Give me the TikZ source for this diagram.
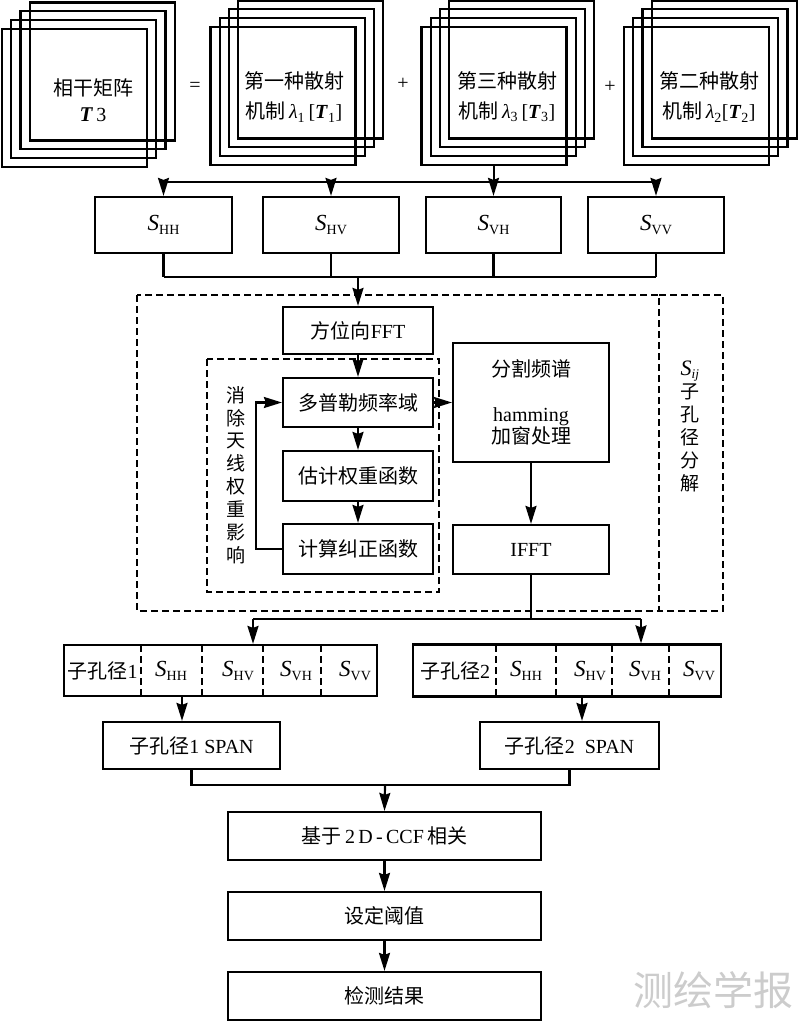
\documentclass[tikz,border=0pt]{standalone}
\usepackage{fontspec}
\setmainfont{Liberation Serif}
\newfontfamily\zh{Noto Sans CJK SC}
\usetikzlibrary{arrows.meta,calc}
\newcommand\fsz{\fontsize{20}{24}\selectfont}
\newcommand\Ss[1]{{\fontsize{23}{24}\selectfont\textit{S}}\raisebox{-4pt}{\fontsize{14}{15}\selectfont #1}}
\newcommand\mystack[3]{%
  \foreach \k in {3,2,1}{\node[stk] at (#2+9.2*\k,#3-8.8*\k) {};}
  \node[stk] (#1) at (#2,#3) {};}
\begin{document}
\begin{tikzpicture}[x=1pt,y=-1pt,line width=2.2pt,
  box/.style={draw,line width=2.2pt,inner sep=0pt,align=center,font=\fsz},
  wh/.style 2 args={minimum width=#1pt,minimum height=#2pt},
  txt/.style={inner sep=0pt,align=center,font=\fsz},
  stk/.style={draw,line width=2.2pt,minimum width=145pt,minimum height=138pt,inner sep=0pt},
  arr/.style={-{Stealth[length=18pt,width=11pt,inset=2pt]}},
  dsh/.style={dash pattern=on 7pt off 4pt,line width=1.9pt}]
\useasboundingbox (0,0) rectangle (800,1024);
% stacks
\mystack{st1}{74.5}{98}
\mystack{st2}{283}{96}
\mystack{st3}{494}{96}
\mystack{st4}{696.5}{96}
\node[txt,font=\fontsize{20}{26}\selectfont] (t1) at (93,100) {{\zh 相干矩阵}\\{\fontsize{21}{24}\selectfont\textbf{\textit{T}}}\,3};
\node[txt,font=\fontsize{20}{30}\selectfont] (t2) at (294,97) {{\zh 第一种散射}\\{\zh 机制}\,\textit{λ}\textsubscript{1}\,[\textbf{\textit{T}}\textsubscript{1}]};
\node[txt,font=\fontsize{20}{30}\selectfont] (t3) at (507,97) {{\zh 第三种散射}\\{\zh 机制}\,\textit{λ}\textsubscript{3}\,[\textbf{\textit{T}}\textsubscript{3}]};
\node[txt,font=\fontsize{20}{30}\selectfont] (t4) at (709,97) {{\zh 第二种散射}\\{\zh 机制}\,\textit{λ}\textsubscript{2}[\textbf{\textit{T}}\textsubscript{2}]};
\node[txt] (eq) at (195,87) {=};
\node[txt] (p1) at (403,84) {+};
\node[txt] (p2) at (610,87) {+};
% S boxes
\node[box,wh={137}{56}] (shh) at (163.5,225) {\Ss{HH}};
\node[box,wh={136}{56}] (shv) at (331,225) {\Ss{HV}};
\node[box,wh={135}{56}] (svh) at (493.5,225) {\Ss{VH}};
\node[box,wh={136}{56}] (svv) at (656,225) {\Ss{VV}};
\coordinate (b1) at (494,182);
\draw (st3.south) -- (b1);
\draw (shh.north |- b1) -- (svv.north |- b1);
\foreach \n in {shh,shv,svh,svv} \draw[arr] (\n.north |- b1) -- (\n.north);
\coordinate (b2) at (358,277);
\foreach \n in {shh,shv,svh,svv} \draw (\n.south) -- (\n.south |- b2);
\draw (shh.south |- b2) -- (svv.south |- b2);
% dashed frames
\draw[dsh] (137,295) rectangle (659,611);
\draw[dsh] (659,295) -- (723,295) -- (723,611) -- (659,611);
\draw[dsh] (207,359) rectangle (439,592);
% middle boxes
\node[box,wh={150}{47}] (fft) at (358,330.5) {{\zh 方位向}FFT};
\node[box,wh={150}{49}] (dop) at (358,402.5) {\zh 多普勒频率域};
\node[box,wh={150}{50}] (est) at (358,476) {\zh 估计权重函数};
\node[box,wh={150}{50}] (cal) at (358,549) {\zh 计算纠正函数};
\node[box,wh={156}{119},font=\fontsize{20}{22}\selectfont] (split) at (531,402.5) {{\zh 分割频谱}\\[23pt]hamming\\{\zh 加窗处理}};
\node[box,wh={156}{49}] (ifft) at (531,549.5) {IFFT};
\node[txt,font=\zh\fontsize{19}{22.9}\selectfont] (vt1) at (236,475) {消\\除\\天\\线\\权\\重\\影\\响};
\node[txt,font=\fontsize{19}{23}\selectfont] (vt2) at (690,427) {{\fontsize{22}{23}\selectfont\textit{S}}\textsubscript{\textit{ij}}\\{\zh 子}\\{\zh 孔}\\{\zh 径}\\{\zh 分}\\{\zh 解}};
\draw[arr] (b2) -- (fft.north);
\draw[arr] (fft) -- (dop);
\draw[arr] (dop) -- (est);
\draw[arr] (est) -- (cal);
\draw[arr] (cal.west) -- ++(-26,0) |- (dop.west);
\draw[arr] (dop) -- (split);
\draw[arr] (split) -- (ifft);
% sub-aperture rows
\node[box,wh={313}{51}] (row1) at (220.5,670.5) {};
\node[box,wh={308}{52}] (row2) at (567,670.5) {};
\foreach \x in {141,202,263,321} \draw[dsh] (\x,645) -- (\x,696);
\foreach \x in {496,556,612,669} \draw[dsh] (\x,645) -- (\x,696);
\node[txt] (r1a) at (102.5,671) {{\zh 子孔径}1};
\node[txt] (r1b) at (171,671) {\Ss{HH}};
\node[txt] (r1c) at (238,671) {\Ss{HV}};
\node[txt] (r1d) at (296,671) {\Ss{VH}};
\node[txt] (r1e) at (355,671) {\Ss{VV}};
\node[txt] (r2a) at (455,671) {{\zh 子孔径}2};
\node[txt] (r2b) at (526,671) {\Ss{HH}};
\node[txt] (r2c) at (590,671) {\Ss{HV}};
\node[txt] (r2d) at (645,671) {\Ss{VH}};
\node[txt] (r2e) at (699,671) {\Ss{VV}};
\coordinate (b3) at (531,619);
\coordinate (b3l) at (253,619);
\coordinate (b3r) at (641,619);
\draw (ifft.south) -- (b3);
\draw (b3l) -- (b3r);
\draw[arr] (b3l) -- (b3l |- row1.north);
\draw[arr] (b3r) -- (b3r |- row2.north);
% span
\node[box,wh={177}{47}] (span1) at (191.5,745.5) {{\zh 子孔径}1 SPAN};
\node[box,wh={179}{47}] (span2) at (569.5,745.5) {{\zh 子孔径}2\ \ SPAN};
\coordinate (a1) at (182,0);
\coordinate (a2) at (582,0);
\draw[arr] (a1 |- row1.south) -- (a1 |- span1.north);
\draw[arr] (a2 |- row2.south) -- (a2 |- span2.north);
\coordinate (b4) at (385,785);
\draw (span1.south) |- (b4) -| (span2.south);
% bottom chain
\node[box,wh={313}{48}] (ccf) at (384.5,836) {{\zh 基于}\,2\,D\,-\,CCF\,{\zh 相关}};
\node[box,wh={313}{48}] (thr) at (384.5,916) {\zh 设定阈值};
\node[box,wh={313}{48}] (res) at (384.5,996) {\zh 检测结果};
\draw[arr] (b4) -- (ccf.north);
\draw[arr] (ccf) -- (thr);
\draw[arr] (thr) -- (res);
% watermark
\node[text=black!20,font=\zh\fontsize{40}{40}\selectfont,inner sep=0pt] (wm) at (713,990) {测绘学报};
\end{tikzpicture}
\end{document}
